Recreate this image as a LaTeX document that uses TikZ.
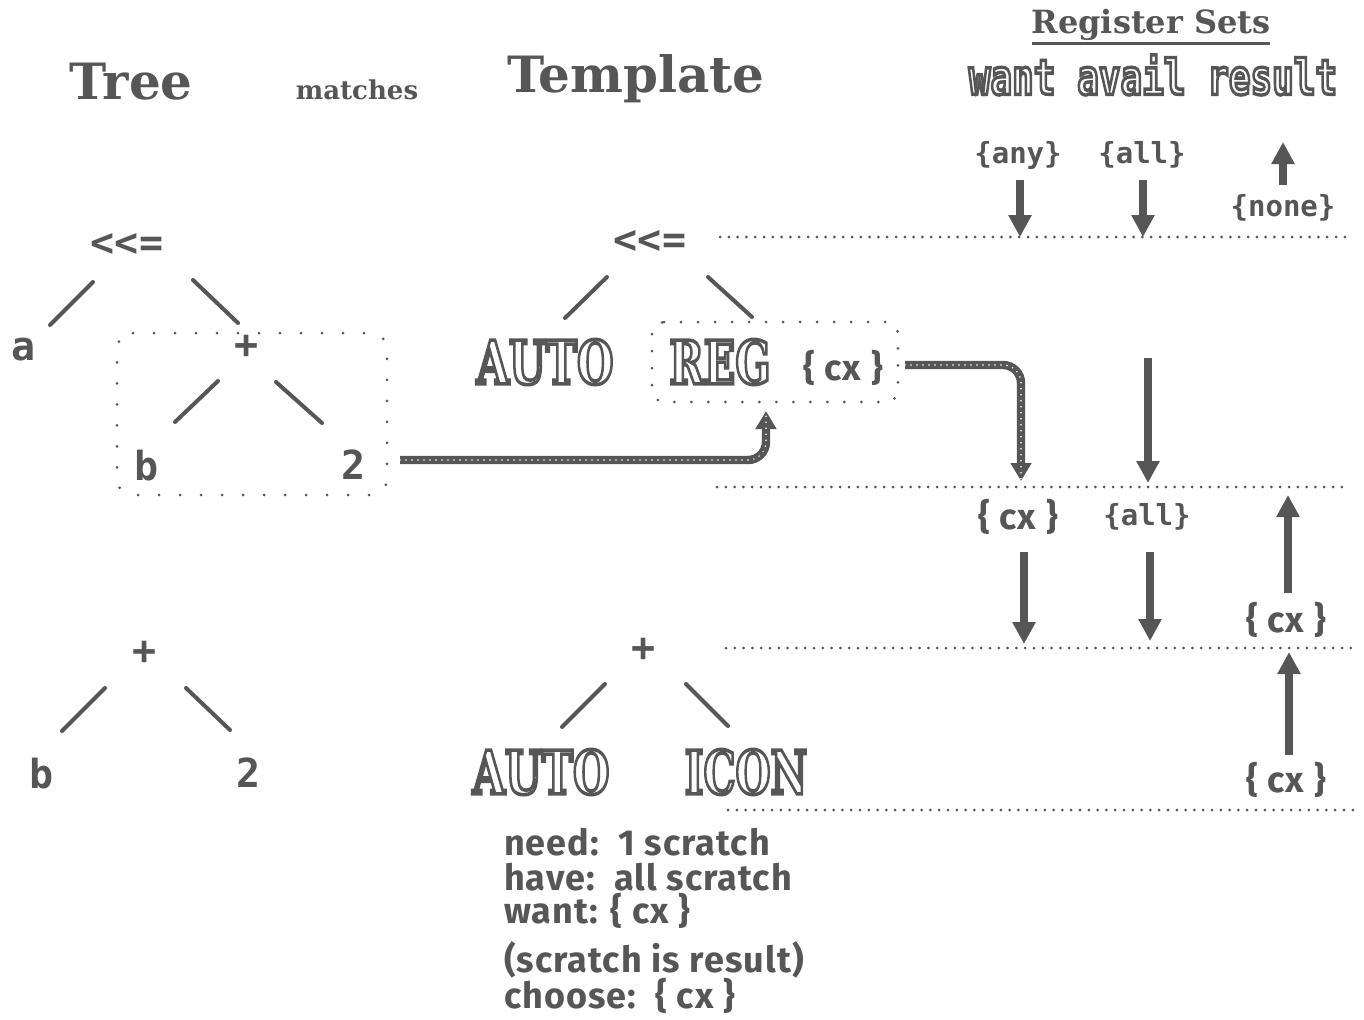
\documentclass[tikz,border=0pt]{standalone}
\usepackage{fontspec}
\usepackage{graphicx}
\usetikzlibrary{arrows.meta,calc}
\newfontfamily\monof{DejaVu Sans Mono}[BoldFont={DejaVu Sans Mono Bold}]
\newfontfamily\olmono{DejaVu Sans Mono}[BoldFont={DejaVu Sans Mono Bold},BoldFeatures={FakeBold=7}]
\newfontfamily\headf{DejaVu Serif}[BoldFont={DejaVu Serif Bold}]
\newfontfamily\chif{Fira Sans}[LetterSpace=3]
\newfontfamily\westf{DejaVu Serif}[BoldFont={DejaVu Serif Bold},BoldFeatures={FakeBold=6}]
\definecolor{ink}{HTML}{565656}
\newcommand\oltxt[1]{{\color{white}\special{pdf:code 0.337 G}#1}}
\begin{document}
\begin{tikzpicture}[x=0.5pt,y=-0.5pt,
  every node/.style={inner sep=0pt,outer sep=0pt,text=ink},
  treetxt/.style={font=\monof\bfseries\fontsize{20pt}{24pt}\selectfont},
  chitxt/.style={font=\chif\bfseries\fontsize{18pt}{22pt}\selectfont},
  settxt/.style={font=\monof\bfseries\fontsize{14.5pt}{18pt}\selectfont},
  westtxt/.style={font=\westf\bfseries\fontsize{30pt}{34pt}\selectfont},
  edge/.style={draw=ink,line width=2pt,line cap=round},
  bigarrow/.style={draw=ink,line width=4pt,-{Triangle[width=11pt,length=11pt]}},
  dotline/.style={draw=ink,line width=1.5pt,line cap=round,dash pattern=on 0pt off 4.4pt},
  rope/.style={draw=ink,line width=4.2pt,rounded corners=9pt,
     -{Triangle[width=10pt,length=9pt]},
     postaction={draw=white,arrows=-,line width=0.8pt,line cap=round,dash pattern=on 0pt off 3pt}},
]
\useasboundingbox (0,0) rectangle (1364,1019);
\fill[white] (0,0) rectangle (1364,1019);

% headings
\node[font=\headf\bfseries\fontsize{25pt}{30pt}\selectfont] (tree) at (131,82) {Tree};
\node[font=\headf\bfseries\fontsize{13pt}{16pt}\selectfont] (matches) at (357,90) {matches};
\node[font=\headf\bfseries\fontsize{25pt}{30pt}\selectfont] (template) at (636,79) {Template};
\node[font=\headf\bfseries\fontsize{16pt}{20pt}\selectfont] (regsets) at (1151,25) {Register Sets};
\draw[ink,line width=1.3pt] ($(regsets.south west)+(0,3)$) -- ($(regsets.south east)+(0,3)$);
\node[font=\olmono\bfseries\fontsize{18pt}{22pt}\selectfont] (hdr) at (1153,75) {\scalebox{1}[1.35]{\oltxt{want avail result}}};

% left tree (top)
\node[treetxt] (r1) at (127,245) {<<=};
\node[treetxt] (a1) at (24,350) {a};
\node[treetxt] (p1) at (247,347) {+};
\node[treetxt] (b1) at (147,466) {b};
\node[treetxt] (t1) at (354,465) {2};
\draw[edge] ($(r1)+(-34,37)$) -- ($(a1)+(26,-25)$);
\draw[edge] ($(r1)+(66,35)$) -- ($(p1)+(-9,-24)$);
\draw[edge] ($(p1)+(-29,34)$) -- ($(b1)+(28,-44)$);
\draw[edge] ($(p1)+(29,35)$) -- ($(t1)+(-32,-42)$);
\coordinate (bx1) at (117,333);
\coordinate (bx2) at (387,495);
\draw[ink,line width=1.5pt,line cap=round,dash pattern=on 0pt off 10.5pt,rounded corners=8pt]
  (bx1) -- (bx2 |- bx1) -- (bx2) -- (bx1 |- bx2) -- cycle;

% template tree (top)
\node[treetxt] (r2) at (650,242) {<<=};
\node[westtxt] (auto1) at (545,362) {\scalebox{0.7}[1]{\oltxt{AUTO}}};
\node[westtxt] (reg) at (720,362) {\scalebox{0.69}[1]{\oltxt{REG}}};
\node[chitxt] (cx1) at (843,368) {\{ cx \}};
\draw[edge] ($(r2)+(-43,35)$) -- ($(auto1)+(20,-44)$);
\draw[edge] ($(r2)+(58,35)$) -- ($(reg)+(32,-45)$);
\coordinate (rb1) at (652,322);
\coordinate (rb2) at (898,402);
\draw[ink,line width=1.5pt,line cap=round,dash pattern=on 0pt off 8.5pt,rounded corners=6pt]
  (rb1) -- (rb2 |- rb1) -- (rb2) -- (rb1 |- rb2) -- cycle;

% rope arrows
\coordinate (ropeend1) at (766,411);
\draw[rope] ($(t1)+(46,-5)$) -| (ropeend1);
\coordinate (ropeend2) at (1021,481);
\draw[rope] ($(cx1)+(62,-3)$) -| (ropeend2);

% register sets column
\node[settxt] (any) at (1018,155) {\{any\}};
\node[settxt] (all1) at (1142,155) {\{all\}};
\node[settxt] (none) at (1283,208) {\{none\}};
\coordinate (l1a) at (720,237);
\coordinate (l1b) at (1345,237);
\draw[dotline] (l1a) -- (l1b);
\draw[bigarrow] ($(any)+(2,25)$) -- ($(any |- l1a)+(2,0)$);
\draw[bigarrow] ($(all1)+(1,25)$) -- ($(all1 |- l1a)+(1,0)$);
\draw[bigarrow] ($(none)+(0,-23)$) -- ($(none)+(0,-66)$);

\coordinate (l2a) at (717,487);
\coordinate (l2b) at (1350,487);
\draw[dotline] (l2a) -- (l2b);
\coordinate (availtop) at (1148,358);
\draw[bigarrow] (availtop) -- ($(availtop |- l2a)+(0,-4)$);

\node[chitxt] (cx2) at (1018,517) {\{ cx \}};
\node[settxt] (all2) at (1147,517) {\{all\}};
\node[chitxt] (cx3) at (1286,620) {\{ cx \}};
\coordinate (l3a) at (726,648);
\coordinate (l3b) at (1355,648);
\draw[dotline] (l3a) -- (l3b);
\draw[bigarrow] ($(cx2)+(6,35)$) -- ($(cx2 |- l3a)+(6,-4)$);
\draw[bigarrow] ($(all2)+(3,35)$) -- ($(all2 |- l3a)+(3,-7)$);
\draw[bigarrow] ($(cx3)+(2,-27)$) -- ($(cx3 |- l2a)+(2,8)$);

\node[chitxt] (cx4) at (1286,780) {\{ cx \}};
\coordinate (l4a) at (728,810);
\coordinate (l4b) at (1355,810);
\draw[dotline] (l4a) -- (l4b);
\draw[bigarrow] ($(cx4)+(3,-25)$) -- ($(cx4 |- l3a)+(3,4)$);

% bottom left tree
\node[treetxt] (p2) at (145,653) {+};
\node[treetxt] (b2) at (42,774) {b};
\node[treetxt] (t2) at (249,773) {2};
\draw[edge] ($(p2)+(-40,35)$) -- ($(b2)+(20,-43)$);
\draw[edge] ($(p2)+(41,35)$) -- ($(t2)+(-19,-43)$);

% bottom template tree
\node[treetxt] (p3) at (644,650) {+};
\node[westtxt] (auto2) at (541,772) {\scalebox{0.7}[1]{\oltxt{AUTO}}};
\node[westtxt] (icon) at (746,772) {\scalebox{0.67}[1]{\oltxt{ICON}}};
\draw[edge] ($(p3)+(-39,34)$) -- ($(auto2)+(21,-45)$);
\draw[edge] ($(p3)+(42,34)$) -- ($(icon)+(-18,-46)$);

% notes
\node[chitxt,anchor=west] (need) at (504,842) {need:\ \ 1 scratch};
\node[chitxt,anchor=west] (have) at (504,877) {have:\ \ all scratch};
\node[chitxt,anchor=west] (want) at (504,911) {want: \{ cx \}};
\node[chitxt,anchor=west] (note) at (504,960) {(scratch is result)};
\node[chitxt,anchor=west] (choose) at (504,996) {choose:\ \ \{ cx \}};
\end{tikzpicture}
\end{document}
